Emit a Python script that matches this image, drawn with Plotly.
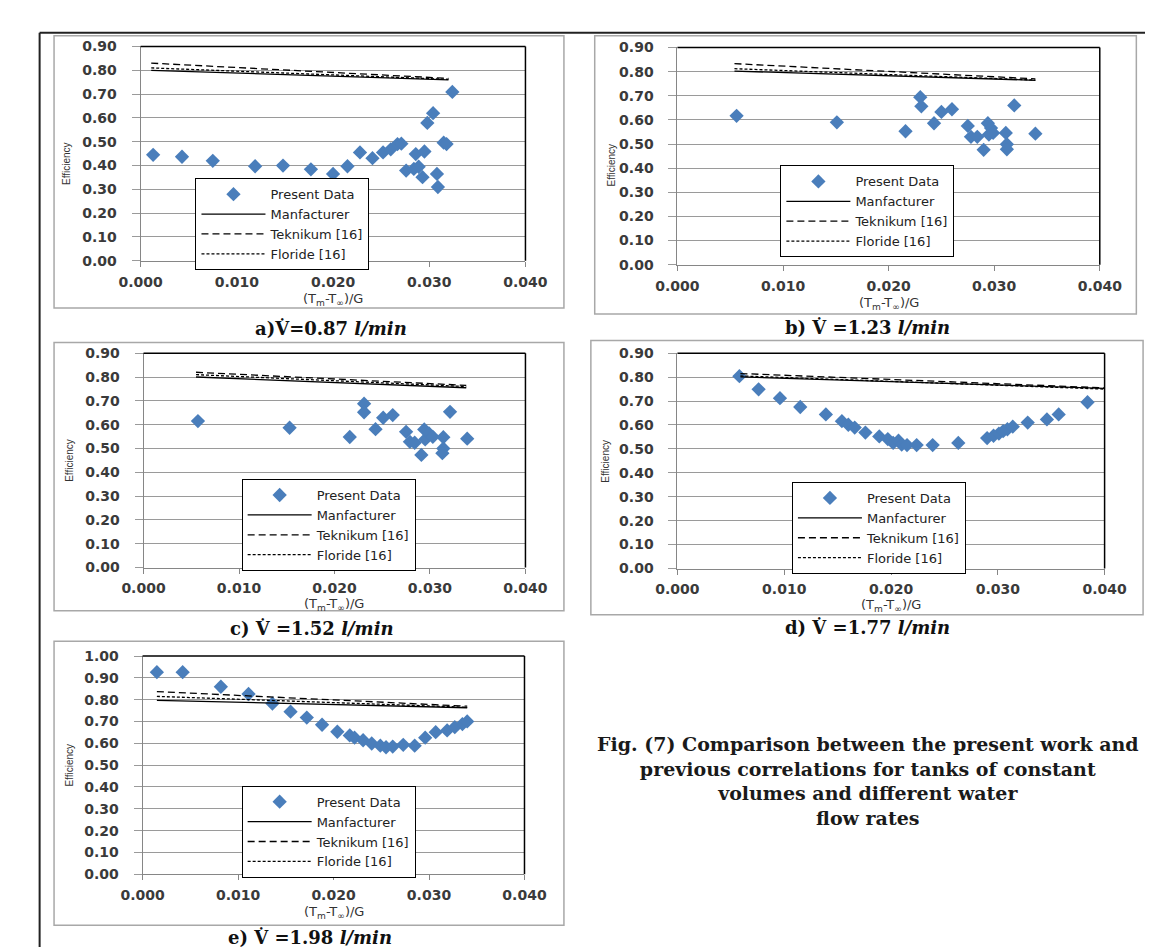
import plotly.graph_objects as go

W, H = 1159, 947

# ---------------- data ----------------
a_x = [0.0013, 0.0043, 0.0075, 0.0119, 0.0148, 0.0177, 0.0200, 0.0215, 0.0228, 0.0241, 0.0252,
       0.0260, 0.0267, 0.0271, 0.0276, 0.0284, 0.0286, 0.0289, 0.0293, 0.0295, 0.0298, 0.0304,
       0.0308, 0.0309, 0.0315, 0.0318, 0.0324]
a_y = [0.445, 0.437, 0.420, 0.397, 0.400, 0.384, 0.365, 0.397, 0.455, 0.431, 0.455,
       0.468, 0.490, 0.492, 0.379, 0.386, 0.448, 0.395, 0.351, 0.459, 0.579, 0.620,
       0.365, 0.310, 0.496, 0.490, 0.709]
a_line_x = [0.0011, 0.0320]
a_manuf = [0.800, 0.760]
a_tekn = [0.830, 0.766]
a_flor = [0.810, 0.762]

b_x = [0.0056, 0.0151, 0.0216, 0.0230, 0.0231, 0.0243, 0.0250, 0.0260, 0.0275, 0.0278, 0.0284,
       0.0290, 0.0294, 0.0295, 0.0297, 0.0299, 0.0311, 0.0312, 0.0312, 0.0319, 0.0339]
b_y = [0.617, 0.590, 0.553, 0.694, 0.656, 0.586, 0.633, 0.644, 0.575, 0.530, 0.530,
       0.476, 0.586, 0.539, 0.566, 0.546, 0.546, 0.499, 0.478, 0.660, 0.543]
b_line_x = [0.0054, 0.0339]
b_manuf = [0.802, 0.764]
b_tekn = [0.833, 0.770]
b_flor = [0.812, 0.765]

c_x = [0.0057, 0.0153, 0.0216, 0.0231, 0.0231, 0.0243, 0.0251, 0.0261, 0.0275, 0.0279, 0.0284,
       0.0291, 0.0294, 0.0295, 0.0299, 0.0303, 0.0314, 0.0314, 0.0313, 0.0321, 0.0339]
c_y = [0.615, 0.587, 0.548, 0.688, 0.652, 0.581, 0.629, 0.640, 0.570, 0.528, 0.524,
       0.473, 0.580, 0.538, 0.563, 0.549, 0.547, 0.500, 0.480, 0.654, 0.541]
c_line_x = [0.0055, 0.0338]
c_manuf = [0.800, 0.755]
c_tekn = [0.820, 0.765]
c_flor = [0.810, 0.760]

d_x = [0.0058, 0.0076, 0.0096, 0.0115, 0.0139, 0.0154, 0.0160, 0.0166, 0.0176, 0.0189, 0.0197,
       0.0202, 0.0207, 0.0210, 0.0215, 0.0224, 0.0239, 0.0263, 0.0290, 0.0296, 0.0301, 0.0305,
       0.0309, 0.0314, 0.0328, 0.0346, 0.0357, 0.0384]
d_y = [0.804, 0.749, 0.712, 0.675, 0.644, 0.616, 0.601, 0.589, 0.568, 0.552, 0.541,
       0.525, 0.534, 0.518, 0.516, 0.516, 0.516, 0.525, 0.545, 0.555, 0.564, 0.574,
       0.582, 0.593, 0.610, 0.623, 0.644, 0.695]
d_line_x = [0.0059, 0.0400]
d_manuf = [0.801, 0.753]
d_tekn = [0.815, 0.755]
d_flor = [0.805, 0.750]

e_x = [0.0015, 0.0042, 0.0082, 0.0111, 0.0136, 0.0155, 0.0172, 0.0188, 0.0204, 0.0217, 0.0222,
       0.0231, 0.0240, 0.0249, 0.0255, 0.0262, 0.0273, 0.0285, 0.0296, 0.0307, 0.0319, 0.0327,
       0.0335, 0.0340]
e_y = [0.926, 0.926, 0.859, 0.826, 0.782, 0.745, 0.718, 0.685, 0.653, 0.636, 0.626,
       0.614, 0.599, 0.589, 0.582, 0.585, 0.593, 0.589, 0.626, 0.651, 0.659, 0.674,
       0.688, 0.700]
e_line_x = [0.0015, 0.0340]
e_manuf = [0.797, 0.763]
e_tekn = [0.837, 0.770]
e_flor = [0.815, 0.765]

series_names = ["Present Data", "Manfacturer", "Teknikum [16]", "Floride [16]"]
captions = ["a)V\u0307=0.87 <i>l/min</i>", "b) V\u0307 =1.23 <i>l/min</i>", "c) V\u0307 =1.52 <i>l/min</i>",
            "d) V\u0307 =1.77 <i>l/min</i>", "e) V\u0307 =1.98 <i>l/min</i>"]
y_max = [0.9, 0.9, 0.9, 0.9, 1.0]
fig_caption = ("Fig. (7) Comparison between the present work and<br>previous correlations for tanks of constant"
               "<br>volumes and different water<br>flow rates")

# ---------------- layout geometry (pixels) ----------------
def px(x):
    return x / W

def py(y):
    return 1 - y / H

panels = [
    dict(x=a_x, y=a_y, lx=a_line_x, m=a_manuf, t=a_tekn, f=a_flor,
         dom=(115, 515, 31, 249), box=(25, 555, 20, 297), leg=(172, 165),
         ytitle=(38, 150), xtitle=288, cap=(313, 318)),
    dict(x=b_x, y=b_y, lx=b_line_x, m=b_manuf, t=b_tekn, f=b_flor,
         dom=(673, 1112, 32, 253), box=(587, 1150, 20, 303), leg=(780, 152),
         ytitle=(604, 152), xtitle=292, cap=(871, 317)),
    dict(x=c_x, y=c_y, lx=c_line_x, m=c_manuf, t=c_tekn, f=c_flor,
         dom=(118, 515, 343, 561), box=(25, 555, 332, 605), leg=(220, 471),
         ytitle=(41, 452), xtitle=599, cap=(293, 623)),
    dict(x=d_x, y=d_y, lx=d_line_x, m=d_manuf, t=d_tekn, f=d_flor,
         dom=(673, 1117, 343, 562), box=(583, 1157, 330, 609), leg=(792, 474),
         ytitle=(598, 453), xtitle=600, cap=(871, 622)),
    dict(x=e_x, y=e_y, lx=e_line_x, m=e_manuf, t=e_tekn, f=e_flor,
         dom=(117, 514, 651, 873), box=(25, 555, 636, 925), leg=(220, 783),
         ytitle=(41, 762), xtitle=912, cap=(291, 937)),
]

fig = go.Figure()
shapes = []
annotations = []
layout = {}
tick_font = dict(family="DejaVu Sans", size=14, color="#3a3a3a", weight="bold")

for i, p in enumerate(panels):
    n = "" if i == 0 else str(i + 1)
    xa, ya = "x" + n, "y" + n
    leg = "legend" + n
    x0, x1, y0, y1 = p["dom"]
    fig.add_trace(go.Scatter(x=p["x"], y=p["y"], mode="markers", name=series_names[0],
                             marker=dict(symbol="diamond", size=11, color="#4a7ebb"),
                             xaxis=xa, yaxis=ya, legend=leg))
    fig.add_trace(go.Scatter(x=p["lx"], y=p["m"], mode="lines", name=series_names[1],
                             line=dict(color="black", width=1.3), xaxis=xa, yaxis=ya, legend=leg))
    fig.add_trace(go.Scatter(x=p["lx"], y=p["t"], mode="lines", name=series_names[2],
                             line=dict(color="black", width=1.3, dash="7px,4px"), xaxis=xa, yaxis=ya, legend=leg))
    fig.add_trace(go.Scatter(x=p["lx"], y=p["f"], mode="lines", name=series_names[3],
                             line=dict(color="black", width=1.3, dash="3px,2px"), xaxis=xa, yaxis=ya, legend=leg))

    layout["xaxis" + n] = dict(domain=[px(x0), px(x1)], anchor=ya, range=[0, 0.04], dtick=0.01,
                               tick0=0, tickformat=".3f", showgrid=False, zeroline=False,
                               showline=True, linecolor="#868686", linewidth=1,
                               ticks="outside", ticklen=5, tickcolor="#868686",
                               tickfont=tick_font, ticklabelstandoff=3, fixedrange=True)
    layout["yaxis" + n] = dict(domain=[py(y1), py(y0)], anchor=xa, range=[0, y_max[i]], dtick=0.1,
                               tick0=0, tickformat=".2f", showgrid=True, gridcolor="#9a9a9a",
                               gridwidth=1, zeroline=False, showline=True, linecolor="#868686",
                               linewidth=1, ticks="outside", ticklen=8, tickcolor="#9a9a9a",
                               tickfont=tick_font, ticklabelstandoff=12, fixedrange=True)
    layout[leg] = dict(x=px(p["leg"][0]), y=py(p["leg"][1]), xanchor="left", yanchor="top",
                       bordercolor="black", borderwidth=1, bgcolor="white",
                       font=dict(family="DejaVu Sans", size=13, color="#222222"),
                       itemwidth=64, tracegroupgap=0)

    # black top/right plot border
    shapes.append(dict(type="line", xref=xa + " domain", yref=ya + " domain", x0=0, x1=1, y0=1, y1=1,
                       line=dict(color="black", width=1.5)))
    shapes.append(dict(type="line", xref=xa + " domain", yref=ya + " domain", x0=1, x1=1, y0=0, y1=1,
                       line=dict(color="black", width=1.5)))
    # chart box
    bx0, bx1, by0, by1 = p["box"]
    shapes.append(dict(type="rect", xref="paper", yref="paper", x0=px(bx0), x1=px(bx1),
                       y0=py(by1), y1=py(by0), line=dict(color="#a8a8a8", width=1.5)))

    annotations.append(dict(text="Efficiency", textangle=-90, xref="paper", yref="paper",
                            x=px(p["ytitle"][0]), y=py(p["ytitle"][1]), showarrow=False,
                            xanchor="center", yanchor="middle",
                            font=dict(family="Liberation Sans", size=10, color="#333333")))
    annotations.append(dict(text="(T<sub>m</sub>-T<sub>\u221e</sub>)/G", xref=xa, yref="paper",
                            x=0.02, y=py(p["xtitle"]), showarrow=False, xanchor="center", yanchor="middle",
                            font=dict(family="DejaVu Sans", size=13, color="#333333")))
    annotations.append(dict(text=captions[i], xref="paper", yref="paper",
                            x=px(p["cap"][0]), y=py(p["cap"][1]), showarrow=False,
                            xanchor="center", yanchor="middle",
                            font=dict(family="DejaVu Serif", size=18, color="#111111", weight="bold")))

# page frame
shapes.append(dict(type="line", xref="paper", yref="paper", x0=px(10), x1=1, y0=py(17), y1=py(17),
                   line=dict(color="#222222", width=2)))
shapes.append(dict(type="line", xref="paper", yref="paper", x0=px(10), x1=px(10), y0=py(17), y1=0,
                   line=dict(color="#222222", width=2)))

annotations.append(dict(text=fig_caption, xref="paper", yref="paper", x=px(871), y=py(727),
                        xanchor="center", yanchor="top", align="center", showarrow=False,
                        font=dict(family="DejaVu Serif", size=19, color="#1a1a1a", weight="bold")))

fig.update_layout(width=W, height=H, autosize=False, margin=dict(l=0, r=0, t=0, b=0),
                  paper_bgcolor="white", plot_bgcolor="white", showlegend=True,
                  shapes=shapes, annotations=annotations, **layout)

fig.write_html("out.html")
